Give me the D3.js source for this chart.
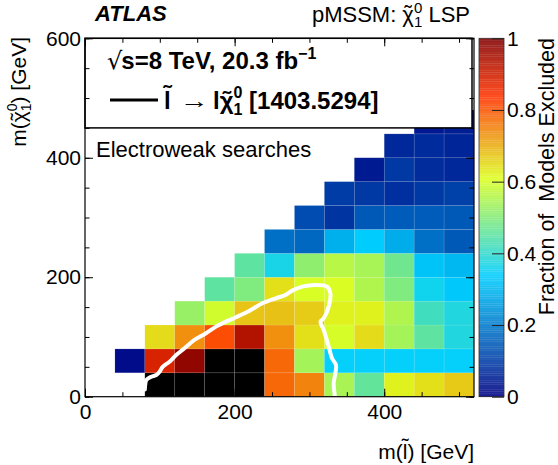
<!DOCTYPE html>
<html><head><meta charset="utf-8">
<script src="https://cdn.jsdelivr.net/npm/d3@7"></script>
<style>
body{margin:0;background:#fff;}
text{font-family:"Liberation Sans",Arial,Helvetica,sans-serif;fill:#000;}
</style></head><body>
<svg id="c" width="558" height="465"></svg>
<script>
// ---- data ----
const slepBinLow = [40, 80, 120, 160, 200, 240, 280, 320, 360, 400, 440, 480];
const neutBinLow = [0, 40, 80, 120, 160, 200, 240, 280, 320, 360, 400, 440];
const binWidth = 40;
const n = null;
// fraction of models excluded; rows = neutralino mass bins (bottom to top), cols = slepton mass bins
const fraction = [
  [n, 1, 1, 1, 1, 0.78, 0.75, 0.545, 0.46, 0.625, 0.645, 0.67],
  [0.02, 0.89, 0.98, 1, 1, 0.78, 0.54, 0.345, 0.345, 0.345, 0.345, 0.345],
  [n, 0.65, 0.735, 0.81, 0.94, 0.735, 0.645, 0.60, 0.65, 0.54, 0.455, 0.38],
  [n, n, 0.525, 0.593, 0.676, 0.68, 0.667, 0.625, 0.625, 0.554, 0.418, 0.38],
  [n, n, n, 0.455, 0.496, 0.645, 0.603, 0.605, 0.554, 0.496, 0.36, 0.328],
  [n, n, n, n, 0.455, 0.37, 0.515, 0.564, 0.544, 0.476, 0.322, 0.302],
  [n, n, n, n, n, 0.184, 0.171, 0.289, 0.335, 0.282, 0.184, 0.144],
  [n, n, n, n, n, n, 0.125, 0.085, 0.145, 0.151, 0.151, 0.144],
  [n, n, n, n, n, n, n, 0.099, 0.092, 0.079, 0.092, 0.105],
  [n, n, n, n, n, n, n, n, 0.043, 0.092, 0.072, 0.066],
  [n, n, n, n, n, n, n, n, n, 0.066, 0.07, 0.06],
  [n, n, n, n, n, n, n, n, n, n, 0.04, 0.05]
];
// slepton search exclusion contour [1403.5294]
const contourX = [80, 80.5, 82, 88.7, 95.3, 99.7, 104.1, 113, 121.9, 133, 146.3, 161.8, 175.1, 188.4, 201.7, 219.4, 237.1, 254.9, 268.2, 277, 290.3, 308.1, 323.5, 328, 325.8, 319.1, 314.8, 319.1, 325.8, 330.2, 335.5, 334.7, 332.4, 333.8, 334];
const contourY = [12, 20, 28, 33.5, 36.3, 41.9, 50.3, 58.6, 69.8, 81, 95, 106.2, 117.3, 125.6, 133, 143.5, 156.4, 164.8, 170.4, 177.6, 184.3, 187.1, 184.3, 173.2, 150.8, 131.3, 125.6, 111.7, 83.8, 64.3, 53.1, 39.2, 22.4, 2.8, -2];
const xTickLabels = [0, 200, 400];
const yTickLabels = [0, 200, 400, 600];
const zTickLabels = [0, 0.2, 0.4, 0.6, 0.8, 1];
const paletteStops = [0, 0.34, 0.61, 0.84, 1];
const paletteColors = ["#000082", "#00cfff", "#deff1f", "#ff3300", "#820000"];

// ---- layout ----
const svg = d3.select("#c");
const L = 85, R = 474, T = 38.3, B = 396.7;
const FS = 21;
const x = d3.scaleLinear([0, 520], [L, R]);
const y = d3.scaleLinear([0, 600], [B, T]);
const z = d3.scaleLinear(paletteStops, paletteColors).clamp(true);
const color = v => v >= 1 ? "#000" : z(v);

svg.append("clipPath").attr("id", "clip").append("rect")
  .attr("x", L).attr("y", T).attr("width", R - L).attr("height", B - T);

// cells
const cells = [];
fraction.forEach((row, i) => row.forEach((v, j) => {
  if (v != null) cells.push({ x0: slepBinLow[j], y0: neutBinLow[i], v });
}));
const plot = svg.append("g").attr("clip-path", "url(#clip)");
plot.selectAll("rect.cell").data(cells).join("rect").attr("class", "cell")
  .attr("x", d => x(d.x0)).attr("y", d => y(d.y0 + binWidth))
  .attr("width", d => x(d.x0 + binWidth) - x(d.x0))
  .attr("height", d => y(d.y0) - y(d.y0 + binWidth))
  .attr("fill", d => color(d.v))
  .attr("stroke", "rgba(255,255,255,0.16)").attr("stroke-width", 0.6);

// contour
const contour = contourX.map((cx, i) => [cx, contourY[i]]);
plot.append("path").datum(contour)
  .attr("d", d3.line().x(d => x(d[0])).y(d => y(d[1])).curve(d3.curveCatmullRom.alpha(0.5)))
  .attr("fill", "none").attr("stroke", "#fff").attr("stroke-width", 4)
  .attr("stroke-linejoin", "round").attr("stroke-linecap", "round");

// legend box
const boxBottom = y(450);
svg.append("rect").attr("x", L).attr("y", T).attr("width", R - L - 2).attr("height", boxBottom - T)
  .attr("fill", "#fff").attr("stroke", "#000").attr("stroke-width", 1.5);

// axes
const minorX = d3.range(0, 521, 50);
const minorY = d3.range(0, 601, 50);
function styleAxis(g) { g.select(".domain").remove(); g.selectAll("line").attr("stroke", "#000").attr("stroke-width", 1); }
svg.append("g").attr("transform", `translate(0,${B})`)
  .call(d3.axisBottom(x).tickValues(xTickLabels).tickSizeInner(-8).tickSizeOuter(0).tickPadding(7))
  .call(styleAxis).call(g => g.selectAll("text").attr("font-size", FS).attr("font-family", null));
svg.append("g").attr("transform", `translate(0,${B})`)
  .call(d3.axisBottom(x).tickValues(minorX).tickSizeInner(-4.5).tickSizeOuter(0).tickFormat(""))
  .call(styleAxis);
svg.append("g").attr("transform", `translate(0,${T})`)
  .call(d3.axisTop(x).tickValues(xTickLabels).tickSizeInner(-8).tickSizeOuter(0).tickFormat(""))
  .call(styleAxis);
svg.append("g").attr("transform", `translate(0,${T})`)
  .call(d3.axisTop(x).tickValues(minorX).tickSizeInner(-4.5).tickSizeOuter(0).tickFormat(""))
  .call(styleAxis);
svg.append("g").attr("transform", `translate(${L},0)`)
  .call(d3.axisLeft(y).tickValues(yTickLabels).tickSizeInner(-8).tickSizeOuter(0).tickPadding(4))
  .call(styleAxis).call(g => g.selectAll("text").attr("font-size", FS).attr("font-family", null));
svg.append("g").attr("transform", `translate(${L},0)`)
  .call(d3.axisLeft(y).tickValues(minorY).tickSizeInner(-4.5).tickSizeOuter(0).tickFormat(""))
  .call(styleAxis);
svg.append("g").attr("transform", `translate(${R},0)`)
  .call(d3.axisRight(y).tickValues(yTickLabels).tickSizeInner(-8).tickSizeOuter(0).tickFormat(""))
  .call(styleAxis);
svg.append("g").attr("transform", `translate(${R},0)`)
  .call(d3.axisRight(y).tickValues(minorY).tickSizeInner(-4.5).tickSizeOuter(0).tickFormat(""))
  .call(styleAxis);
svg.append("rect").attr("x", L).attr("y", T).attr("width", R - L).attr("height", B - T)
  .attr("fill", "none").attr("stroke", "#000").attr("stroke-width", 1.2);

// colorbar
const CB0 = 479, CB1 = 504;
const zy = d3.scaleLinear([0, 1], [B, T]);
const steps = d3.range(0, 1, 0.005);
svg.append("g").attr("opacity", 0.88).selectAll("rect").data(steps).join("rect")
  .attr("x", CB0).attr("width", CB1 - CB0)
  .attr("y", d => zy(d + 0.005)).attr("height", d => zy(d) - zy(d + 0.005) + 0.3)
  .attr("fill", d => z(d + 0.0025));
svg.append("rect").attr("x", CB0).attr("y", T).attr("width", CB1 - CB0).attr("height", B - T)
  .attr("fill", "none").attr("stroke", "#333").attr("stroke-width", 0.8);
svg.append("g").attr("transform", `translate(${CB1},0)`)
  .call(d3.axisRight(zy).tickValues(zTickLabels).tickSizeInner(-12).tickSizeOuter(0).tickPadding(3)
    .tickFormat(d => d === 0 || d === 1 ? String(d) : d3.format(".1f")(d)))
  .call(styleAxis)
  .call(g => g.selectAll("line").attr("stroke", "#222"))
  .call(g => g.selectAll("text").attr("font-size", FS).attr("font-family", null));

// helper: add a tilde accent (as a tspan of the same text) above character idx
function addTilde(textSel, idx, lift, size) {
  const node = textSel.node();
  const ext = node.getExtentOfChar(idx);
  const p = node.getStartPositionOfChar(idx);
  const cx = ext.x + ext.width / 2;
  const anchor = textSel.attr("text-anchor") || "start";
  const t = textSel.append("tspan").attr("font-size", size).attr("x", 0).attr("y", p.y - lift).text("\u02DC");
  const w = t.node().getComputedTextLength();
  t.attr("x", anchor === "end" ? cx + w / 2 : anchor === "middle" ? cx : cx - w / 2);
}

// titles
svg.append("text").attr("transform", "translate(554,38) rotate(-90)")
  .attr("text-anchor", "end").attr("font-size", 21.5).style("white-space", "pre")
  .text("Fraction of  Models Excluded");

const ytg = svg.append("g").attr("transform", "translate(26,37) rotate(-90)");
const yt = ytg.append("text").attr("text-anchor", "end").attr("font-size", FS);
yt.append("tspan").text("m(\u03C7");
yt.append("tspan").attr("font-size", 14).attr("dy", 5).text("1");
yt.append("tspan").attr("font-size", 14).attr("dx", -7.8).attr("dy", -14).text("0");
yt.append("tspan").attr("dy", 9).text(") [GeV]");
addTilde(yt, 2, 1, FS);

const xt = svg.append("text").attr("x", R).attr("y", 459).attr("text-anchor", "end").attr("font-size", FS)
  .text("m(l) [GeV]");
addTilde(xt, 2, 6, FS);

svg.append("text").attr("x", 95).attr("y", 21).attr("font-size", 22).attr("font-weight", "bold")
  .attr("font-style", "italic").text("ATLAS");

const pm = svg.append("text").attr("x", 470).attr("y", 22).attr("text-anchor", "end").attr("font-size", 22);
pm.append("tspan").text("pMSSM: \u03C7");
pm.append("tspan").attr("font-size", 15).attr("dy", 5).text("1");
pm.append("tspan").attr("font-size", 15).attr("dx", -8.3).attr("dy", -14).text("0");
pm.append("tspan").attr("dy", 9).text(" LSP");
addTilde(pm, 7, 1, 22);

// legend
const LF = 24;
const l1 = svg.append("text").attr("x", 107).attr("y", 69).attr("font-size", LF).attr("font-weight", "bold");
l1.append("tspan").attr("font-weight", "normal").attr("font-family", "DejaVu Sans").attr("font-size", 24).text("\u221A");
l1.append("tspan").attr("dx", -1).text("s=8 TeV, 20.3 fb");
l1.append("tspan").attr("font-size", 16).attr("dy", -10).text("\u22121");

svg.append("line").attr("x1", 110).attr("x2", 158).attr("y1", 100).attr("y2", 100)
  .attr("stroke", "#000").attr("stroke-width", 3);
const la = svg.append("text").attr("x", 164).attr("y", 109).attr("font-size", LF).attr("font-weight", "bold").text("l");
addTilde(la, 0, 7, LF);
svg.append("text").attr("x", 180).attr("y", 108).attr("font-size", 22).attr("font-family", "DejaVu Sans")
  .attr("textLength", 29).attr("lengthAdjust", "spacingAndGlyphs").text("\u2192");
const lb = svg.append("text").attr("x", 213).attr("y", 109).attr("font-size", LF).attr("font-weight", "bold");
lb.append("tspan").text("l\u03C7");
lb.append("tspan").attr("font-size", 16).attr("dy", 6).text("1");
lb.append("tspan").attr("font-size", 16).attr("dx", -8.9).attr("dy", -17).text("0");
lb.append("tspan").attr("dy", 11).text(" [1403.5294]");
addTilde(lb, 1, 1, LF);

svg.append("text").attr("x", 96).attr("y", 157).attr("font-size", 22).text("Electroweak searches");
</script>
</body></html>
